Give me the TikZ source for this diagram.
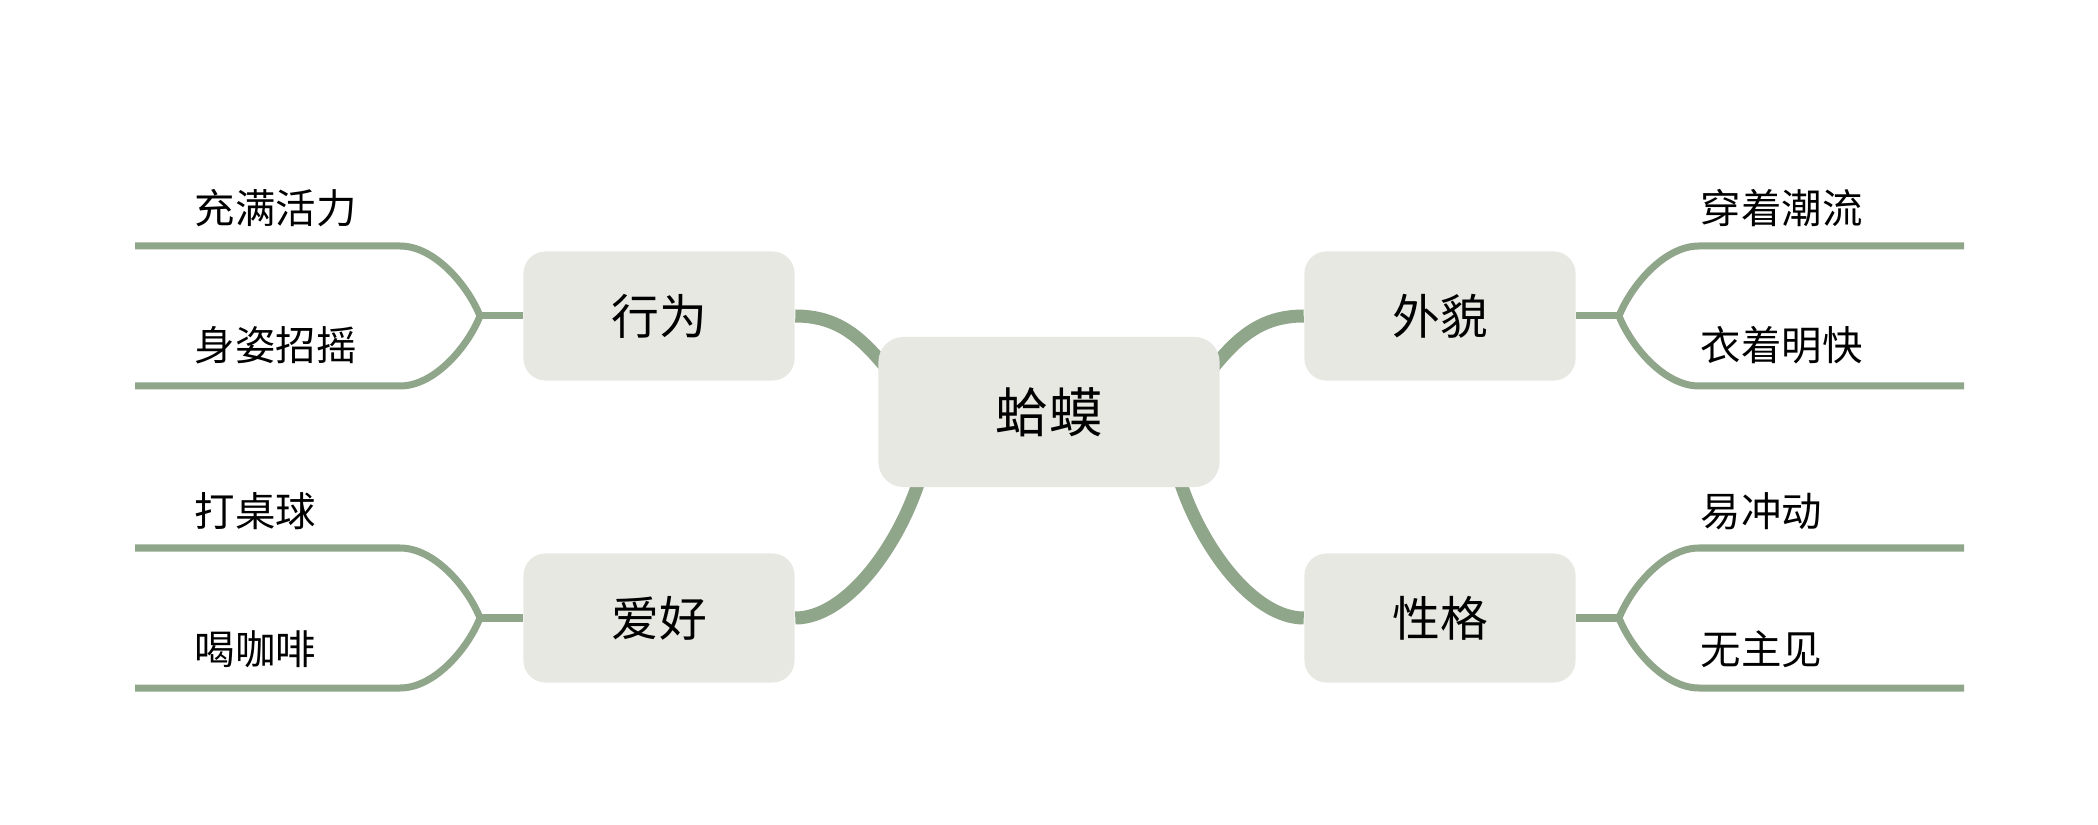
\documentclass[tikz,border=0pt]{standalone}
\usepackage{fontspec}
\newfontfamily\cjk{Noto Sans CJK SC}
\usetikzlibrary{backgrounds}
\definecolor{branch}{HTML}{90A68B}
\definecolor{boxfill}{HTML}{E8E8E2}

\begin{document}
\begin{tikzpicture}[x=0.01cm,y=-0.01cm,
    root/.style={rectangle,rounded corners=0.25cm,fill=boxfill,minimum width=3.41cm,minimum height=1.5cm,inner sep=0pt,font=\cjk\fontsize{15.2pt}{18pt}\selectfont},
    topic/.style={rectangle,rounded corners=0.22cm,fill=boxfill,minimum width=2.71cm,minimum height=1.29cm,inner sep=0pt,font=\cjk\fontsize{13.6pt}{16pt}\selectfont},
    leaf/.style={anchor=west,inner sep=0pt,font=\cjk\fontsize{11.5pt}{14pt}\selectfont},
    mainbranch/.style={draw=branch,line width=0.13cm},
    twig/.style={draw=branch,line width=0.07cm}
]
    \useasboundingbox (0,0) rectangle (2098,825);

    % centre and the four topics
    \node[root] (hama) at (1049,412) {蛤蟆};
    \node[topic] (xingwei) at (659,316) {行为};
    \node[topic] (aihao) at (659,618) {爱好};
    \node[topic] (waimao) at (1440,316) {外貌};
    \node[topic] (xingge) at (1440,618) {性格};

    % leaves
    \node[leaf] (chongman) at (194,208) {充满活力};
    \node[leaf] (shenzi) at (194,345) {身姿招摇};
    \node[leaf] (zhuoqiu) at (194,511) {打桌球};
    \node[leaf] (kafei) at (194,649) {喝咖啡};
    \node[leaf] (chaoliu) at (1700,208) {穿着潮流};
    \node[leaf] (mingkuai) at (1700,345) {衣着明快};
    \node[leaf] (chongdong) at (1700,511) {易冲动};
    \node[leaf] (zhujian) at (1700,649) {无主见};

    % forks and free ends of the twigs
    \coordinate (xwfork) at (480,316);
    \coordinate (xwtop) at (135,246);
    \coordinate (xwbot) at (135,386);
    \coordinate (ahfork) at (480,618);
    \coordinate (ahtop) at (135,548);
    \coordinate (ahbot) at (135,688);
    \coordinate (wmfork) at (1619,316);
    \coordinate (wmtop) at (1964,246);
    \coordinate (wmbot) at (1964,386);
    \coordinate (xgfork) at (1619,618);
    \coordinate (xgtop) at (1964,548);
    \coordinate (xgbot) at (1964,688);

    \begin{scope}[on background layer]
    % centre to topics
    \draw[mainbranch] (xingwei.east) .. controls +(45,0) and +(-25,-30) .. (888,370);
    \draw[mainbranch] (aihao.east) .. controls +(50,0) and +(-22,70) .. (920,478);
    \draw[mainbranch] (waimao.west) .. controls +(-45,0) and +(25,-30) .. (1211,370);
    \draw[mainbranch] (xingge.west) .. controls +(-50,0) and +(22,70) .. (1179,478);

    % topics to leaves
    \draw[twig] (xingwei.west) -- (xwfork);
    \draw[twig] (xwfork) .. controls +(-12,-30) and +(35,0) .. ++(-80,-70) -- (xwtop);
    \draw[twig] (xwfork) .. controls +(-12,30) and +(35,0) .. ++(-80,70) -- (xwbot);
    \draw[twig] (aihao.west) -- (ahfork);
    \draw[twig] (ahfork) .. controls +(-12,-30) and +(35,0) .. ++(-80,-70) -- (ahtop);
    \draw[twig] (ahfork) .. controls +(-12,30) and +(35,0) .. ++(-80,70) -- (ahbot);
    \draw[twig] (waimao.east) -- (wmfork);
    \draw[twig] (wmfork) .. controls +(12,-30) and +(-35,0) .. ++(80,-70) -- (wmtop);
    \draw[twig] (wmfork) .. controls +(12,30) and +(-35,0) .. ++(80,70) -- (wmbot);
    \draw[twig] (xingge.east) -- (xgfork);
    \draw[twig] (xgfork) .. controls +(12,-30) and +(-35,0) .. ++(80,-70) -- (xgtop);
    \draw[twig] (xgfork) .. controls +(12,30) and +(-35,0) .. ++(80,70) -- (xgbot);
    \end{scope}

\end{tikzpicture}
\end{document}
